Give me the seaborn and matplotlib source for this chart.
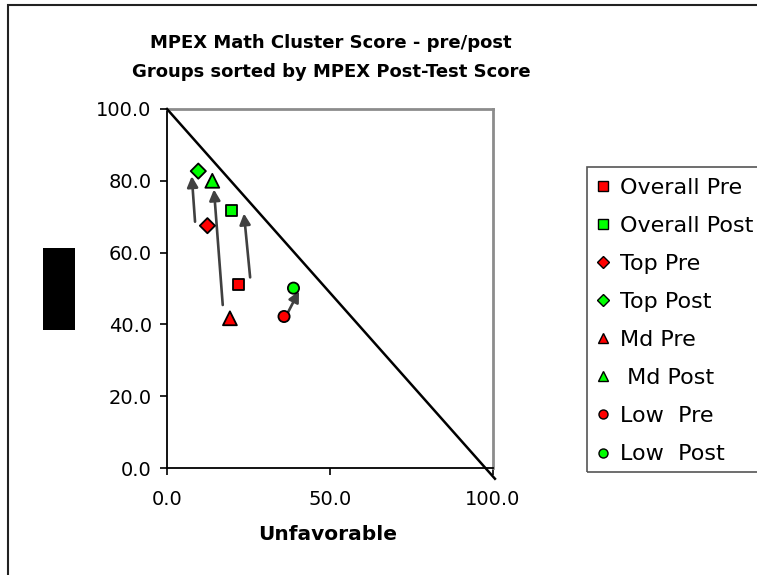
import matplotlib
matplotlib.use("Agg")
import matplotlib.pyplot as plt
from matplotlib.lines import Line2D
from matplotlib.patches import Rectangle
from matplotlib.ticker import FormatStrFormatter
import pandas as pd
import seaborn as sns

# Group scores (x: unfavorable, y: favorable)
series = ["Overall Pre", "Overall Post", "Top Pre", "Top Post",
          "Md Pre", " Md Post", "Low  Pre", "Low  Post"]
unfavorable = [21.9, 19.8, 12.4, 9.6, 19.3, 13.9, 35.9, 38.8]
favorable = [51.2, 71.8, 67.5, 82.7, 41.7, 80.0, 42.2, 50.1]
marker_shapes = ["s", "s", "D", "D", "^", "^", "o", "o"]
fill_colors = ["#FF0000", "#00FF00", "#FF0000", "#00FF00",
               "#FF0000", "#00FF00", "#FF0000", "#00FF00"]
marker_areas = [60, 60, 60, 60, 100, 100, 65, 65]

# Pre -> post arrows
arrow_start_x = [8.6, 17.1, 25.5, 37.2]
arrow_start_y = [68.6, 45.4, 53.1, 43.5]
arrow_end_x = [7.6, 14.4, 23.6, 40.5]
arrow_end_y = [81.3, 77.6, 70.9, 49.3]

# Reference diagonal (favorable + unfavorable = 100)
diag_x = [0.0, 100.6]
diag_y = [100.0, -3.0]

x_ticks = [0, 50, 100]
y_ticks = [0, 20, 40, 60, 80, 100]

W, H = 757, 575
fig = plt.figure(figsize=(W / 100, H / 100), dpi=100)
plt.rcParams["font.family"] = ["DejaVu Sans"]

ax = fig.add_axes([167 / W, 1 - 468 / H, (493 - 167) / W, (468 - 109) / H])

df = pd.DataFrame({"Unfavorable": unfavorable, "Favorable": favorable,
                   "Series": series})
sns.scatterplot(data=df, x="Unfavorable", y="Favorable", hue="Series",
                style="Series", size="Series",
                palette=dict(zip(series, fill_colors)),
                markers=dict(zip(series, marker_shapes)),
                sizes=dict(zip(series, marker_areas)),
                edgecolor="black", linewidth=1.3, legend=False,
                ax=ax, zorder=4, clip_on=False)

ax.plot(diag_x, diag_y, color="black", lw=1.8, zorder=3, clip_on=False)

for sx, sy, ex, ey in zip(arrow_start_x, arrow_start_y, arrow_end_x, arrow_end_y):
    ax.annotate("", xy=(ex, ey), xytext=(sx, sy),
                arrowprops=dict(arrowstyle="-|>", color="#404040", lw=1.9,
                                mutation_scale=16, shrinkA=0, shrinkB=0),
                zorder=3)

ax.set_xlim(0, 100)
ax.set_ylim(0, 100)
ax.set_xticks(x_ticks)
ax.set_yticks(y_ticks)
ax.xaxis.set_major_formatter(FormatStrFormatter("%.1f"))
ax.yaxis.set_major_formatter(FormatStrFormatter("%.1f"))
ax.tick_params(direction="out", length=5, width=1.2, color="black",
               labelsize=14, labelcolor="black")
ax.tick_params(axis="x", pad=11)
ax.tick_params(axis="y", pad=6)
ax.set_xlabel("")
ax.set_ylabel("")
ax.set_facecolor("white")
for side in ("left", "bottom"):
    ax.spines[side].set_color("black")
    ax.spines[side].set_linewidth(1.3)
for side in ("top", "right"):
    ax.spines[side].set_color("#8c8c8c")
    ax.spines[side].set_linewidth(2.0)

fig.text(331 / W, 1 - 43 / H, "MPEX Math Cluster Score - pre/post",
         ha="center", va="center", fontsize=13, fontweight="bold")
fig.text(331 / W, 1 - 72 / H, "Groups sorted by MPEX Post-Test Score",
         ha="center", va="center", fontsize=13, fontweight="bold")
fig.text(328 / W, 1 - 535 / H, "Unfavorable",
         ha="center", va="center", fontsize=14.5, fontweight="bold")

# Axis-title block on the left
fig.patches.append(Rectangle((43 / W, 1 - 330 / H), 32 / W, 82 / H,
                             transform=fig.transFigure, facecolor="black",
                             edgecolor="none"))
# Chart border
fig.patches.append(Rectangle((8 / W, -0.1), 1.5, 0.1 + 1 - 5 / H,
                             transform=fig.transFigure, facecolor="none",
                             edgecolor="#222222", lw=1.5))
# Legend frame
fig.patches.append(Rectangle((586.7 / W, 1 - 471.7 / H), 0.5,
                             (471.7 - 167.3) / H, transform=fig.transFigure,
                             facecolor="none", edgecolor="#555555", lw=1.2))

handles = [Line2D([], [], linestyle="none", marker=m, markerfacecolor=c,
                  markeredgecolor="black", markeredgewidth=1.0,
                  markersize=6.5 if m != "D" else 5.8)
           for m, c in zip(marker_shapes, fill_colors)]
fig.legend(handles, series, loc="upper left",
           bbox_to_anchor=(593.8 / W, 1 - 177.5 / H), frameon=False,
           fontsize=16, handlelength=0.8, handletextpad=0.38,
           labelspacing=0.815, borderpad=0, borderaxespad=0)

fig.savefig("out.png", dpi=100)
